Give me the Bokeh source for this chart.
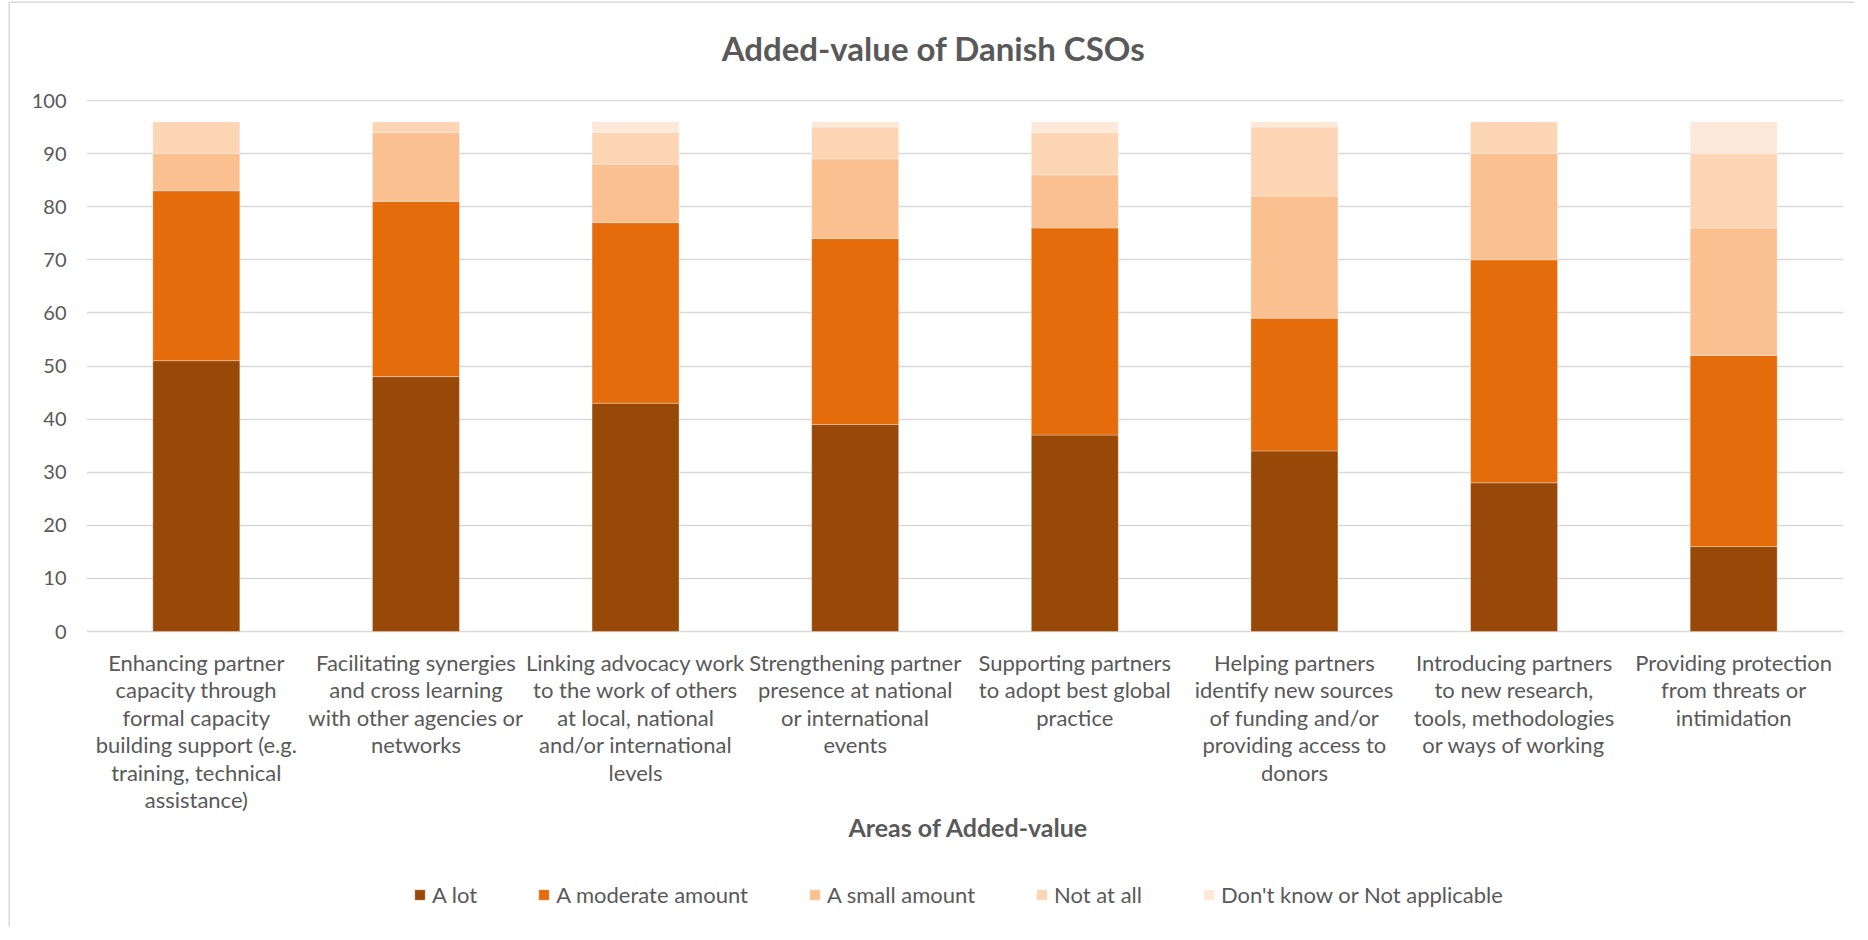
from bokeh.plotting import figure
from bokeh.models import FactorRange, Range1d, FixedTicker, Legend, LegendItem, Label
from bokeh.core.properties import value
from bokeh.embed import file_html
from bokeh.resources import INLINE

categories = [
    "Enhancing partner\ncapacity through\nformal capacity\nbuilding support (e.g.\ntraining, technical\nassistance)",
    "Facilitating synergies\nand cross learning\nwith other agencies or\nnetworks",
    "Linking advocacy work\nto the work of others\nat local, national\nand/or international\nlevels",
    "Strengthening partner\npresence at national\nor international\nevents",
    "Supporting partners\nto adopt best global\npractice",
    "Helping partners\nidentify new sources\nof funding and/or\nproviding access to\ndonors",
    "Introducing partners\nto new research,\ntools, methodologies\nor ways of working",
    "Providing protection\nfrom threats or\nintimidation",
]

series_names = ["A lot", "A moderate amount", "A small amount", "Not at all",
                "Don't know or Not applicable"]
a_lot = [51, 48, 43, 39, 37, 34, 28, 16]
a_moderate = [32, 33, 34, 35, 39, 25, 42, 36]
a_small = [7, 13, 11, 15, 10, 23, 20, 24]
not_at_all = [6, 2, 6, 6, 8, 13, 6, 14]
dont_know = [0, 0, 2, 1, 2, 1, 0, 6]
colors = ["#984807", "#E46C0A", "#FAC090", "#FCD5B5", "#FDE9D9"]
y_ticks = list(range(0, 101, 10))

FONT = "Lato"
GREY = "#595959"

# page geometry (absolute pixels in the 1868x940 window)
OFFX, OFFY = 10, 3                  # chart-area border offset
W, H = 1868 - OFFX - 12, 940 - OFFY - 12
FRAME_L, FRAME_R = 86, 1843
Y100_PX, Y0_PX = 100, 631
BOTTOM = OFFY + H                   # absolute row of frame bottom
px_per_unit = (Y0_PX - Y100_PX) / 100.0
y_start = -(BOTTOM - Y0_PX) / px_per_unit
y_end = 100 + (Y100_PX - OFFY) / px_per_unit

data = {"cat": categories, "s0": a_lot, "s1": a_moderate, "s2": a_small,
        "s3": not_at_all, "s4": dont_know}

p = figure(x_range=FactorRange(factors=categories), y_range=Range1d(y_start, y_end),
           width=W, height=H, output_backend="svg", toolbar_location=None,
           x_axis_location=None, title=None,
           min_border_left=FRAME_L - OFFX, min_border_right=OFFX + W - FRAME_R,
           min_border_top=0, min_border_bottom=0, outline_line_color=None)
p.margin = (OFFY, 0, 0, OFFX)
p.styles = {"box-shadow": "-1.5px -1.5px 0px 0px #D9D9D9"}

renderers = p.vbar_stack(["s0", "s1", "s2", "s3", "s4"], x="cat", width=0.396,
                         color=colors, source=data, line_color="white",
                         line_width=0.6, line_alpha=0.5)

# category labels (under the zero line)
p.text(x="cat", y=0, text="cat", source=data, y_offset=17,
       text_align="center", text_baseline="top", text_font=value(FONT),
       text_font_size="22px", text_color=GREY, text_line_height=1.02)

# title
p.add_layout(Label(x=933 - FRAME_L, y=BOTTOM - 47, x_units="screen", y_units="screen",
                   text="Added-value of Danish CSOs", text_align="center",
                   text_baseline="middle", text_font=FONT, text_font_size="33px",
                   text_color=GREY, text_font_style="bold"))

# x axis title
p.add_layout(Label(x=968 - FRAME_L, y=BOTTOM - 826, x_units="screen", y_units="screen",
                   text="Areas of Added-value", text_align="center",
                   text_baseline="middle", text_font=FONT, text_font_size="25px",
                   text_color=GREY, text_font_style="bold"))

# y axis
p.yaxis.ticker = FixedTicker(ticks=y_ticks)
p.yaxis.axis_line_color = None
p.yaxis.major_tick_line_color = None
p.yaxis.minor_tick_line_color = None
p.yaxis.major_tick_out = 0
p.yaxis.major_label_standoff = 20
p.yaxis.major_label_text_font = FONT
p.yaxis.major_label_text_font_size = "20px"
p.yaxis.major_label_text_color = GREY

p.xgrid.grid_line_color = None
p.ygrid.ticker = FixedTicker(ticks=y_ticks)
p.ygrid.grid_line_color = "#D9D9D9"
p.ygrid.grid_line_width = 1.5

legend = Legend(items=[LegendItem(label=n, renderers=[r]) for n, r in zip(series_names, renderers)],
                orientation="horizontal", location=(413 - FRAME_L, BOTTOM - 908),
                border_line_color=None, background_fill_alpha=0,
                padding=0, margin=0, spacing=60, label_standoff=6,
                glyph_width=13, glyph_height=13, label_height=20,
                label_text_font=FONT, label_text_font_size="22px",
                label_text_color=GREY)
p.add_layout(legend)

open("out.html", "w").write(file_html(p, INLINE))
